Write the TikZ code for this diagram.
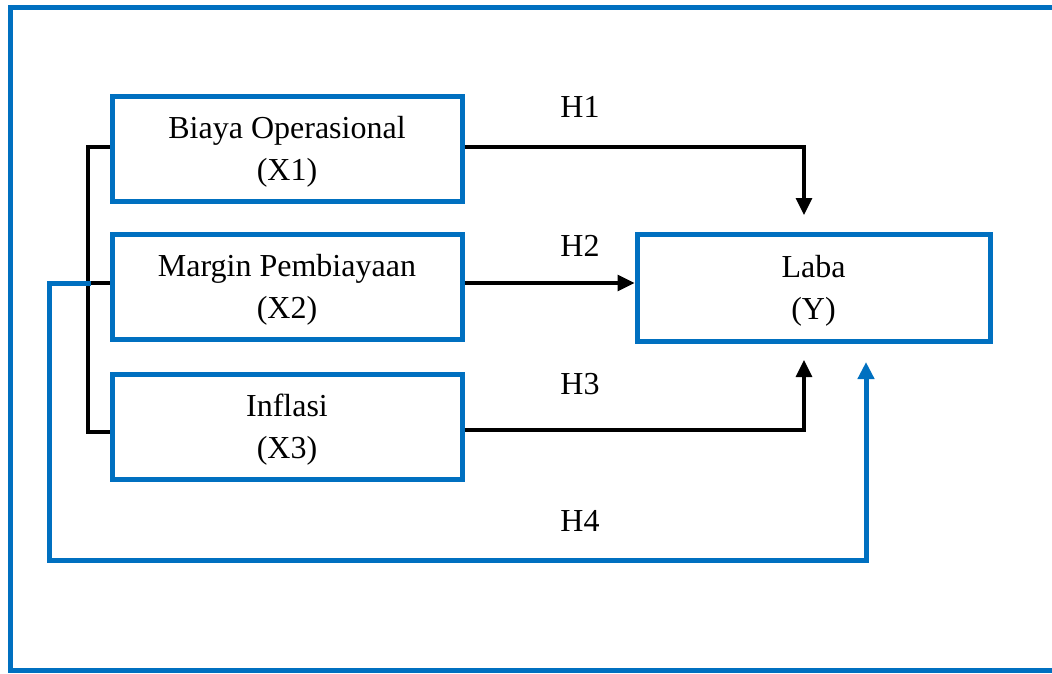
\documentclass[tikz,border=0pt]{standalone}
\usepackage{fontspec}
\setmainfont{Liberation Serif}
\usetikzlibrary{arrows.meta}
\definecolor{frameblue}{HTML}{0070C0}
\begin{document}
\begin{tikzpicture}[x=1pt,y=-1pt,
  varbox/.style={draw=frameblue,line width=5pt,minimum width=350pt,minimum height=105pt,align=center,inner sep=0pt,font=\fontsize{32}{42}\selectfont},
  lbl/.style={font=\fontsize{32}{36}\selectfont,inner sep=0pt},
  blk/.style={draw=black,line width=3.2pt},
  tip/.style={-{Triangle[length=17pt,width=16pt]}},
  blu/.style={draw=frameblue,line width=5pt}]
\useasboundingbox (0,0) rectangle (1052,673);
\draw[blu] (10.5,7.5) rectangle (1056,670);
\node[varbox] (x1) at (287,148.5) {\rule{0pt}{28pt}Biaya Operasional\\(X1)};
\node[varbox] (x2) at (287,287) {\rule{0pt}{28pt}Margin Pembiayaan\\(X2)};
\node[varbox] (x3) at (287,426.5) {\rule{0pt}{28pt}Inflasi\\(X3)};
\node[varbox,minimum width=353pt,minimum height=107pt] (y) at (813.5,287.5) {\rule{0pt}{28pt}Laba\\(Y)};
\coordinate (b1) at (88,147);
\coordinate (b2) at (88,283);
\coordinate (b3) at (88,432);
\coordinate (c1) at (804,147);
\coordinate (c3) at (804,430);
\coordinate (d1) at (49,283);
\coordinate (d2) at (49,560);
\coordinate (d3) at (866,560);
\node[lbl] (h1) at (580,107) {H1};
\node[lbl] (h2) at (580,246) {H2};
\node[lbl] (h3) at (580,384) {H3};
\node[lbl] (h4) at (580,521) {H4};
% bracket
\draw[blk] (b1 -| x1.west) -- (b1) -- (b3) -- (b3 -| x1.west);
\draw[blk] (b2) -- (b2 -| x2.west);
% H4 line
\draw[blu,line cap=rect] (b2) -- (d1) -- (d2) -- (d3);
\draw[frameblue,line width=5pt,tip] (d3) -- (866,362);
% H1
\draw[blk,tip] (c1 -| x1.east) -- (c1) -- (804,215);
% H2
\draw[blk,tip] (b2 -| x2.east) -- (b2 -| y.west);
% H3
\draw[blk,tip] (c3 -| x3.east) -- (c3) -- (804,360);
\end{tikzpicture}
\end{document}
